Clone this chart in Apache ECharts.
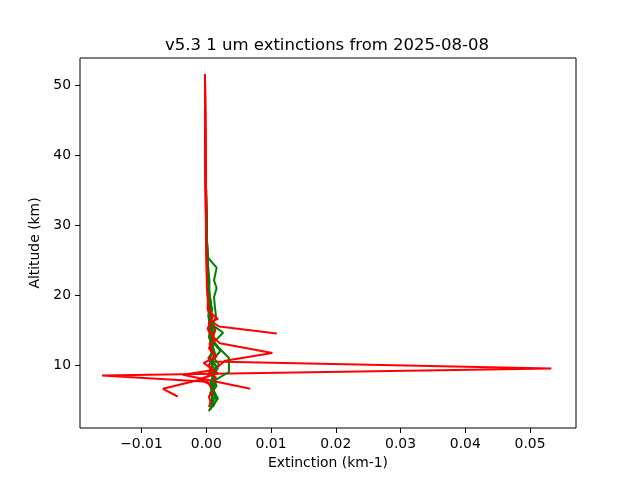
<!DOCTYPE html>
<html>
<head>
<meta charset="utf-8">
<script src="https://cdn.jsdelivr.net/npm/echarts@6/dist/echarts.min.js"></script>
<style>
  html, body { margin: 0; padding: 0; background: #fff; }
  #chart { width: 640px; height: 480px; }
</style>
</head>
<body>
<div id="chart"></div>
<script>
// 廓线数据 [消光系数, 高度]
var red1 = [[0.0004, 4.0], [0.0008, 5.0], [0.0010, 6.0], [0.0006, 7.0], [0.0002, 7.6], [-0.0161, 8.5], [0.0533, 9.5], [0.0008, 10.5], [0.0012, 11.5], [0.0006, 12.5], [0.0010, 13.5], [0.0005, 14.5], [0.0008, 15.5], [0.0004, 16.5], [0.0005, 18], [0.0003, 20], [0.0002, 22], [0.0001, 25], [0.0000, 30], [-0.0001, 35], [-0.0002, 40], [-0.0002, 45], [-0.0002, 51.5]];
var red2 = [[0.0109, 14.5], [0.0020, 15.5], [0.0008, 16.2], [0.0018, 16.6], [0.0006, 17.5], [0.0004, 19], [0.0003, 21], [0.0002, 24], [0.0001, 28], [0.0000, 33], [-0.0001, 40], [-0.0002, 51.5]];
var red3 = [[-0.0044, 5.5], [-0.0067, 6.6], [-0.0005, 8.0], [0.0010, 8.9], [0.0004, 10.0], [0.0014, 11.0], [0.0007, 12.0], [0.0012, 13.2], [0.0006, 14.5], [0.0004, 16], [0.0006, 17.5], [0.0003, 19.5], [0.0002, 22], [0.0001, 26], [0.0000, 32], [-0.0001, 40], [-0.0002, 51.5]];
var red4 = [[0.0068, 6.6], [-0.0036, 8.6], [0.0012, 9.3], [0.0029, 10.6], [0.0102, 11.7], [0.0021, 13.1], [0.0010, 14.0], [0.0014, 15.0], [0.0006, 16.0], [0.0004, 18], [0.0002, 21], [0.0001, 25], [0.0000, 30], [-0.0001, 38], [-0.0002, 51.5]];
var red5 = [[0.0008, 4.3], [0.0004, 5.5], [0.0012, 6.5], [0.0006, 7.5], [0.0015, 8.2], [0.0004, 9.0], [0.0009, 10.0], [0.0003, 11.0], [0.0011, 12.0], [0.0005, 13.0], [0.0009, 14.0], [0.0003, 15.0], [0.0007, 16.5], [0.0002, 18], [0.0003, 20], [0.0001, 23], [0.0000, 28], [-0.0001, 35], [-0.0002, 51.5]];
var red6 = [[0.0006, 7.2], [-0.0010, 8.0], [0.0018, 8.8], [0.0006, 9.6], [-0.0004, 10.3], [0.0016, 11.2], [0.0004, 12.4], [0.0013, 13.8], [0.0002, 15.2], [0.0010, 16.8], [0.0003, 18.5], [0.0001, 21], [0.0000, 26], [-0.0001, 33], [-0.0002, 51.0]];

var green1 = [[0.0006, 3.6], [0.0012, 4.5], [0.0018, 5.2], [0.0010, 6.5], [0.0015, 7.9], [0.0035, 9.0], [0.0035, 11.0], [0.0020, 12.4], [0.0012, 13.3], [0.0026, 14.6], [0.0010, 15.7], [0.0015, 16.9], [0.0013, 18.6], [0.0012, 19.7], [0.0016, 21.0], [0.0012, 22.1], [0.0016, 23.9], [0.0003, 25.3], [0.0001, 28], [0.0000, 35]];
var green2 = [[0.0004, 3.4], [0.0010, 4.5], [0.0008, 6.0], [0.0016, 7.0], [0.0010, 8.5], [0.0018, 9.5], [0.0008, 10.5], [0.0014, 11.5], [0.0009, 13.0], [0.0011, 14.5], [0.0007, 16.0], [0.0008, 18], [0.0005, 20], [0.0004, 22], [0.0003, 24], [0.0001, 27], [0.0000, 33]];
var green3 = [[0.0010, 4.0], [0.0016, 5.0], [0.0008, 6.5], [0.0012, 8.0], [0.0006, 9.0], [0.0020, 10.0], [0.0012, 11.0], [0.0022, 12.0], [0.0008, 13.5], [0.0014, 15.0], [0.0006, 16.5], [0.0009, 18], [0.0004, 20], [0.0005, 22], [0.0002, 24.5], [0.0001, 28], [0.0000, 34]];
var green4 = [[0.0012, 4.8], [0.0006, 6.0], [0.0014, 7.2], [0.0009, 8.5], [0.0016, 9.8], [0.0006, 11.0], [0.0010, 12.5], [0.0004, 14.0], [0.0008, 15.5], [0.0003, 17.0], [0.0006, 18.5], [0.0002, 20], [0.0004, 22], [0.0001, 24], [0.0002, 25.3], [0.0000, 30]];
var green5 = [[0.0008, 4.2], [0.0014, 5.8], [0.0007, 7.5], [0.0013, 9.2], [0.0005, 10.8], [0.0011, 12.2], [0.0006, 13.8], [0.0010, 15.2], [0.0004, 16.8], [0.0007, 19], [0.0003, 21.5], [0.0001, 24.5], [0.0000, 31]];

var xTicks = [-0.01, 0.00, 0.01, 0.02, 0.03, 0.04, 0.05];
var yTicks = [10, 20, 30, 40, 50];

var profiles = [
    { data: red1, color: '#ff0000' },
    { data: green1, color: '#008000' },
    { data: red2, color: '#ff0000' },
    { data: green2, color: '#008000' },
    { data: red3, color: '#ff0000' },
    { data: green3, color: '#008000' },
    { data: red4, color: '#ff0000' },
    { data: green4, color: '#008000' },
    { data: red5, color: '#ff0000' },
    { data: green5, color: '#008000' },
    { data: red6, color: '#ff0000' }
];

var chart = echarts.init(document.getElementById('chart'));

var option = {
    animation: false,
    backgroundColor: '#fff',
    textStyle: { fontFamily: 'DejaVu Sans' },
    title: {
        text: 'v5.3 1 um extinctions from 2025-08-08',
        left: 160,
        top: 32,
        textStyle: { fontSize: 16.5, fontWeight: 'normal', color: '#000', fontFamily: 'DejaVu Sans' }
    },
    grid: {
        left: 80, right: 64, top: 58, bottom: 52,
        show: true, borderColor: '#000', borderWidth: 1, backgroundColor: 'transparent'
    },
    xAxis: {
        type: 'value',
        min: -0.0195,
        max: 0.0571,
        name: 'Extinction (km-1)',
        nameLocation: 'middle',
        nameGap: 28,
        nameTextStyle: { fontSize: 13.9, color: '#000', fontFamily: 'DejaVu Sans' },
        axisLine: { show: false, onZero: false },
        splitLine: { show: false },
        axisTick: { show: true, length: 5, lineStyle: { color: '#000' }, customValues: xTicks },
        axisLabel: {
            fontSize: 13.9, color: '#000', margin: 9,
            customValues: xTicks,
            formatter: function (v) { return v.toFixed(2).replace('-', '\u2212'); }
        }
    },
    yAxis: {
        type: 'value',
        min: 1.0,
        max: 53.86,
        name: 'Altitude (km)',
        nameLocation: 'middle',
        nameGap: 29,
        nameTextStyle: { fontSize: 13.9, color: '#000', fontFamily: 'DejaVu Sans' },
        axisLine: { show: false, onZero: false },
        splitLine: { show: false },
        axisTick: { show: true, length: 5, lineStyle: { color: '#000' }, customValues: yTicks },
        axisLabel: {
            fontSize: 13.9, color: '#000', margin: 9,
            customValues: yTicks,
            formatter: function (v) { return String(v); }
        }
    },
    series: profiles.map(function (p) {
        return {
            type: 'line',
            data: p.data,
            showSymbol: false,
            silent: true,
            lineStyle: { color: p.color, width: 2 },
            itemStyle: { color: p.color }
        };
    })
};

chart.setOption(option);
</script>
</body>
</html>
